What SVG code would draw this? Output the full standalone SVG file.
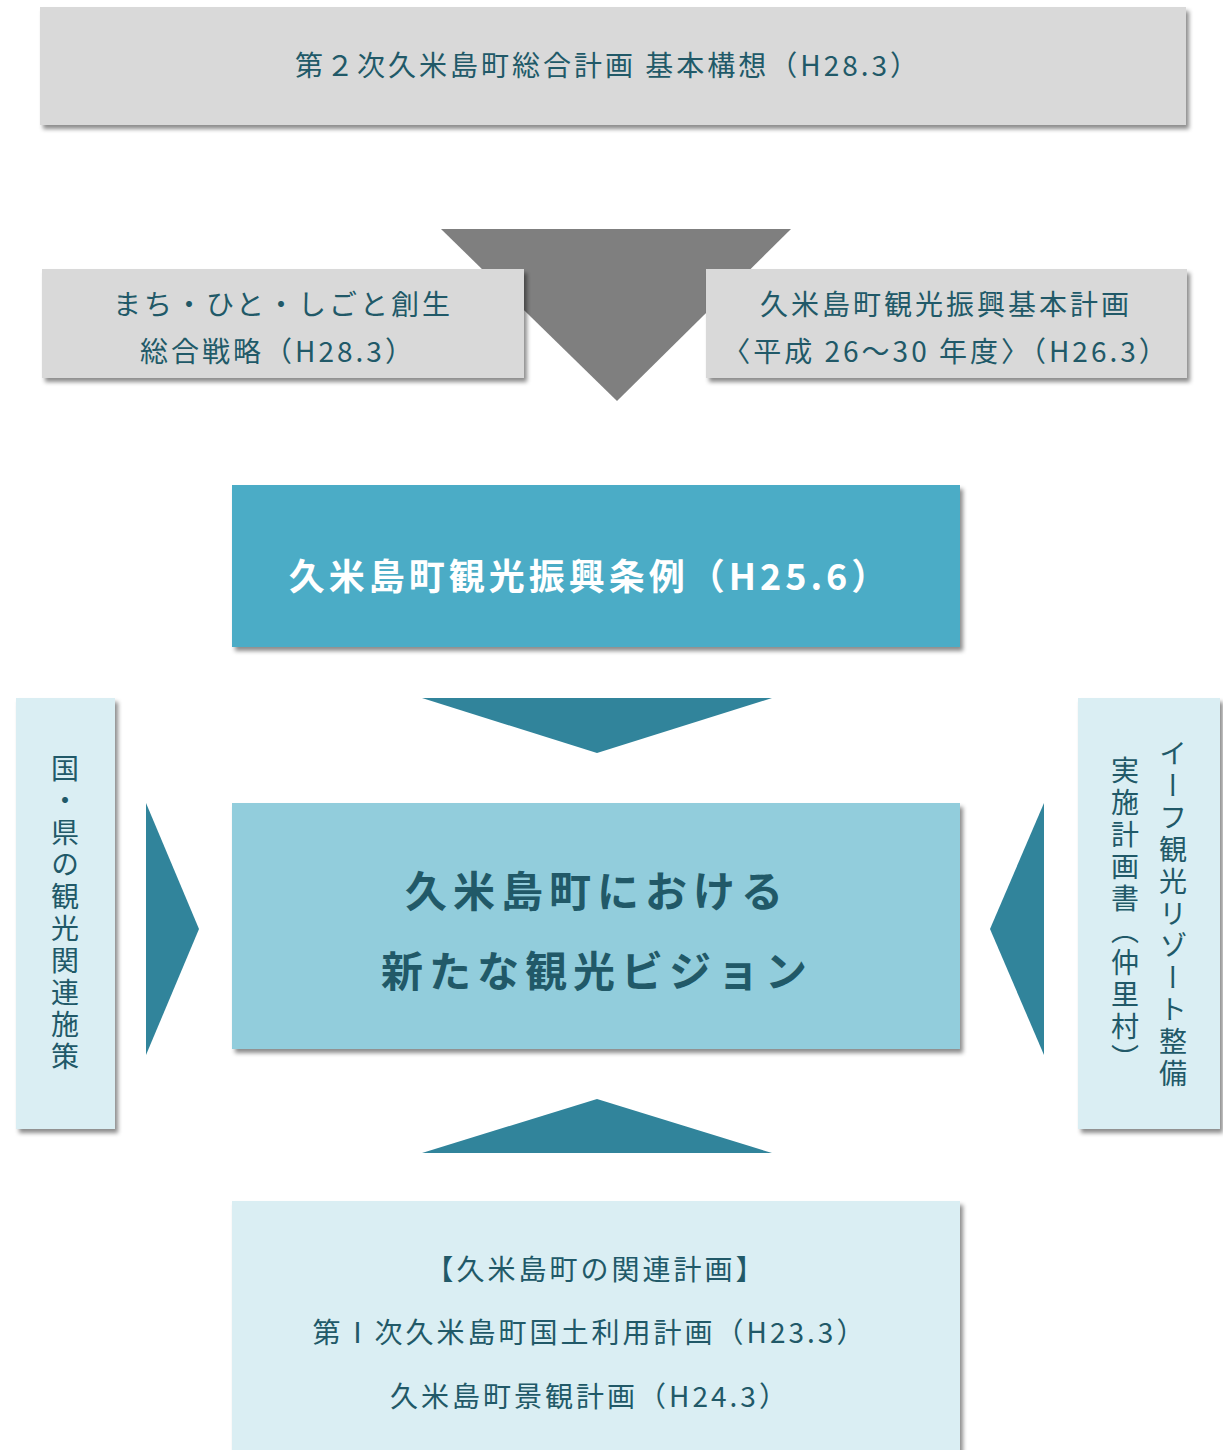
<svg xmlns="http://www.w3.org/2000/svg" width="1223" height="1450" viewBox="0 0 1223 1450">
<defs>
<filter id="sh" x="-10%" y="-10%" width="120%" height="130%">
<feDropShadow dx="3" dy="4" stdDeviation="2" flood-color="#000" flood-opacity="0.45"/>
</filter>
<style>
text{font-family:"Noto Sans CJK JP","Noto Sans",sans-serif;fill:#215968;text-anchor:middle;}
.t28{font-size:28px;letter-spacing:3px;}
.gray{fill:#d9d9d9;filter:url(#sh);}
.pale{fill:#daeef3;filter:url(#sh);}
.arr{fill:#31849b;}
.vt{font-size:28px;letter-spacing:4px;writing-mode:vertical-rl;}
</style>
</defs>
<rect width="1223" height="1450" fill="#fff"/>
<g id="connectors">
<polygon points="441,229 791,229 617,401" fill="#7f7f7f"/>
<polygon class="arr" points="422,698 772,698 597,753"/>
<polygon class="arr" points="146,803 146,1055 199,929"/>
<polygon class="arr" points="1044,803 1044,1055 990,929"/>
<polygon class="arr" points="422,1153 772,1153 597,1099"/>
</g>
<g id="top">
<rect class="gray" x="40" y="7" width="1146" height="118"/>
<text class="t28" x="608" y="76">第２次久米島町総合計画 基本構想（H28.3）</text>
</g>
<g id="left-plan">
<rect class="gray" x="42" y="269" width="482" height="109"/>
<text class="t28" x="283" y="315">まち・ひと・しごと創生</text>
<text class="t28" x="278" y="362">総合戦略（H28.3）</text>
</g>
<g id="right-plan">
<rect class="gray" x="706" y="269" width="481" height="109"/>
<text class="t28" x="946" y="315">久米島町観光振興基本計画</text>
<text class="t28" x="946" y="362">〈平成 26～30 年度〉（H26.3）</text>
</g>
<g id="ordinance">
<rect x="232" y="485" width="728" height="162" fill="#4bacc6" filter="url(#sh)"/>
<text x="590" y="590" style="fill:#fff;font-size:36px;font-weight:bold;letter-spacing:4px">久米島町観光振興条例（H25.6）</text>
</g>
<g id="vision">
<rect x="232" y="803" width="728" height="246" fill="#92cddc" filter="url(#sh)"/>
<text x="597" y="907" style="font-size:42px;font-weight:bold;letter-spacing:6px">久米島町における</text>
<text x="597" y="987" style="font-size:42px;font-weight:bold;letter-spacing:6px">新たな観光ビジョン</text>
</g>
<g id="national">
<rect class="pale" x="16" y="698" width="99" height="431"/>
<text class="vt" x="65" y="914">国・県の観光関連施策</text>
</g>
<g id="resort">
<rect class="pale" x="1078" y="698" width="142" height="431"/>
<text class="vt" x="1173" y="915">イーフ観光リゾート整備</text>
<text class="vt" x="1125" y="916">実施計画書（仲里村）</text>
</g>
<g id="related">
<rect class="pale" x="232" y="1201" width="728" height="260"/>
<text class="t28" x="596" y="1280">【久米島町の関連計画】</text>
<text class="t28" x="590" y="1343">第Ⅰ次久米島町国土利用計画（H23.3）</text>
<text class="t28" x="590" y="1407">久米島町景観計画（H24.3）</text>
</g>
</svg>
